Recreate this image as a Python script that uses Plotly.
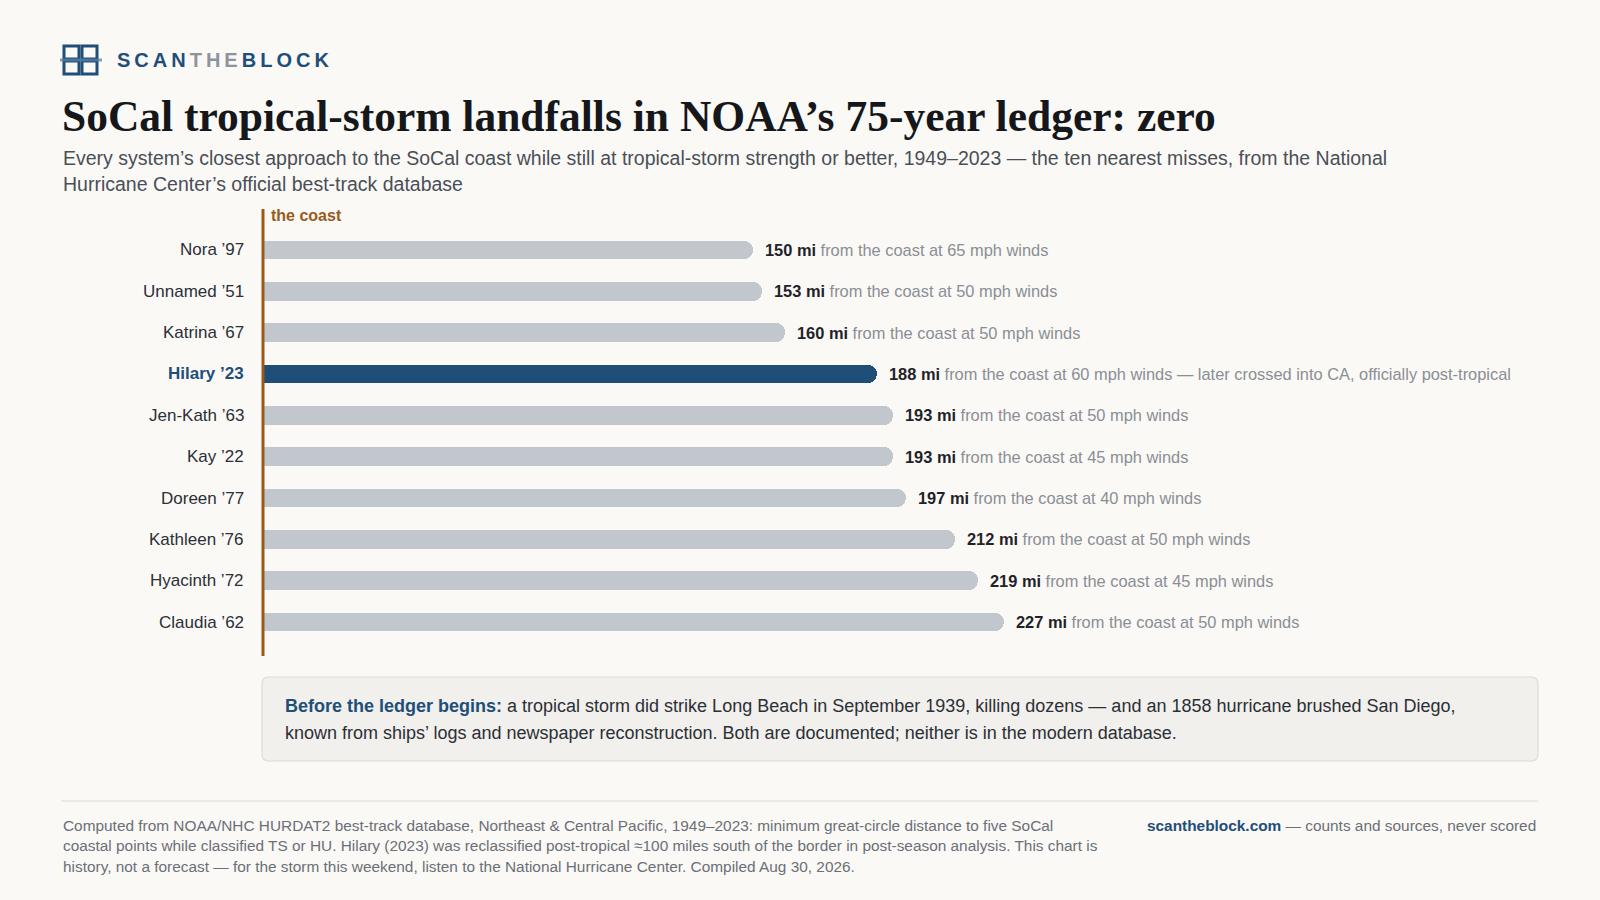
import plotly.graph_objects as go

# data
storms = ["Nora ’97", "Unnamed ’51", "Katrina ’67", "Hilary ’23", "Jen-Kath ’63",
          "Kay ’22", "Doreen ’77", "Kathleen ’76", "Hyacinth ’72", "Claudia ’62"]
distance_mi = [150, 153, 160, 188, 193, 193, 197, 212, 219, 227]
wind_mph = [65, 50, 50, 60, 50, 45, 40, 50, 45, 50]
notes = ["", "", "", " — later crossed into CA, officially post-tropical", "", "", "", "", "", ""]
highlight = "Hilary ’23"

BG = "#faf9f6"
BLUE = "#1f4e79"
GREY_BAR = "#c2c6cd"
COAST = "#9a5b1a"
DARK = "#1f2328"
MUTED = "#8a8e95"
FONT = "Liberation Sans, Arial, Helvetica, sans-serif"

W, H = 1600, 900
L, R, T, B = 262, 1570, 209, 656   # plot area in pixels


def px(x):
    return (x - L) / (R - L)


def py(y):
    return (B - y) / (B - T)


colors = [BLUE if s == highlight else GREY_BAR for s in storms]

fig = go.Figure()
fig.add_trace(go.Bar(
    y=storms, x=distance_mi, orientation="h",
    marker=dict(color=colors, line=dict(width=0), cornerradius=9),
    width=0.45, hoverinfo="skip",
))

ann = []
shapes = []

# value labels next to each bar
for s, d, w, n in zip(storms, distance_mi, wind_mph, notes):
    ann.append(dict(
        x=d, y=s, xref="x", yref="y", xanchor="left", yanchor="middle",
        xshift=10, showarrow=False,
        text=f"<b>{d} mi</b><span style='color:{MUTED}'> from the coast at {w} mph winds{n}</span>",
        font=dict(family=FONT, size=16.4, color=DARK),
    ))
    is_h = s == highlight
    ann.append(dict(
        x=0, y=s, xref="paper", yref="y", xanchor="right", yanchor="middle",
        xshift=-16, showarrow=False,
        text=f"<b>{s}</b>" if is_h else s,
        font=dict(family=FONT, size=17, color=BLUE if is_h else "#2b2f36"),
    ))

# coast line
shapes.append(dict(type="line", xref="paper", yref="paper", x0=px(263), x1=px(263),
                   y0=0, y1=1, line=dict(color=COAST, width=3), layer="above"))
ann.append(dict(x=px(269), y=py(215), xref="paper", yref="paper", xanchor="left",
                yanchor="middle", showarrow=False, text="<b>the coast</b>",
                font=dict(family=FONT, size=16, color=COAST)))

# logo: 2x2 rounded squares with a bar through the middle
for (x0, y0) in [(64, 46), (82, 46), (64, 61), (82, 61)]:
    shapes.append(dict(type="rect", xref="paper", yref="paper",
                       x0=px(x0), x1=px(x0 + 15), y0=py(y0), y1=py(y0 + 13),
                       line=dict(color=BLUE, width=3), fillcolor="rgba(0,0,0,0)"))
shapes.append(dict(type="line", xref="paper", yref="paper", x0=px(60), x1=px(102),
                   y0=py(60), y1=py(60), line=dict(color="rgba(91,128,165,0.75)", width=3)))

sp = "\u2009"
brand = (f"<span style='color:{BLUE}'>{sp.join('SCAN')}</span>{sp}"
         f"<span style='color:#8e949c'>{sp.join('THE')}</span>{sp}"
         f"<span style='color:{BLUE}'>{sp.join('BLOCK')}</span>")
ann.append(dict(x=px(115), y=py(60), xref="paper", yref="paper", xanchor="left",
                yanchor="middle", showarrow=False, text=f"<b>{brand}</b>",
                font=dict(family=FONT, size=20, color=BLUE)))

# title and subtitle
ann.append(dict(x=px(60), y=py(116), xref="paper", yref="paper", xanchor="left",
                yanchor="middle", showarrow=False,
                text="<b>SoCal tropical-storm landfalls in NOAA’s 75-year ledger: zero</b>",
                font=dict(family="Liberation Serif, DejaVu Serif, Georgia, serif", size=43.5, color="#15171a")))
sub_lines = [
    "Every system’s closest approach to the SoCal coast while still at tropical-storm strength or better, 1949–2023 — the ten nearest misses, from the National",
    "Hurricane Center’s official best-track database",
]
for i, line in enumerate(sub_lines):
    ann.append(dict(x=px(61), y=py(158 + 26 * i), xref="paper", yref="paper", xanchor="left",
                    yanchor="middle", showarrow=False, text=line,
                    font=dict(family=FONT, size=19.5, color="#4a4f57")))

# note box with rounded corners
bx0, bx1, by0, by1, rr = 262, 1538, 677, 761, 7
path = (f"M {px(bx0 + rr)},{py(by0)} L {px(bx1 - rr)},{py(by0)} "
        f"Q {px(bx1)},{py(by0)} {px(bx1)},{py(by0 + rr)} L {px(bx1)},{py(by1 - rr)} "
        f"Q {px(bx1)},{py(by1)} {px(bx1 - rr)},{py(by1)} L {px(bx0 + rr)},{py(by1)} "
        f"Q {px(bx0)},{py(by1)} {px(bx0)},{py(by1 - rr)} L {px(bx0)},{py(by0 + rr)} "
        f"Q {px(bx0)},{py(by0)} {px(bx0 + rr)},{py(by0)} Z")
shapes.append(dict(type="path", xref="paper", yref="paper", path=path,
                   fillcolor="#f1f0ec", line=dict(color="#dcdbd5", width=1.2), layer="below"))
box_lines = [
    f"<b><span style='color:{BLUE}'>Before the ledger begins:</span></b> a tropical storm did strike Long Beach in September 1939, killing dozens — and an 1858 hurricane brushed San Diego,",
    "known from ships’ logs and newspaper reconstruction. Both are documented; neither is in the modern database.",
]
for i, line in enumerate(box_lines):
    ann.append(dict(x=px(283), y=py(706 + 27 * i), xref="paper", yref="paper", xanchor="left",
                    yanchor="middle", showarrow=False, text=line,
                    font=dict(family=FONT, size=18, color="#2b2f36")))

# footer
shapes.append(dict(type="line", xref="paper", yref="paper", x0=px(61), x1=px(1538),
                   y0=py(801), y1=py(801), line=dict(color="#dddcd6", width=1.2)))
foot_lines = [
    "Computed from NOAA/NHC HURDAT2 best-track database, Northeast &amp; Central Pacific, 1949–2023: minimum great-circle distance to five SoCal",
    "coastal points while classified TS or HU. Hilary (2023) was reclassified post-tropical ≈100 miles south of the border in post-season analysis. This chart is",
    "history, not a forecast — for the storm this weekend, listen to the National Hurricane Center. Compiled Aug 30, 2026.",
]
for i, line in enumerate(foot_lines):
    ann.append(dict(x=px(61), y=py(825 + 20.5 * i), xref="paper", yref="paper", xanchor="left",
                    yanchor="middle", showarrow=False, text=line,
                    font=dict(family=FONT, size=15.4, color="#6b6f76")))
ann.append(dict(x=px(1538), y=py(825), xref="paper", yref="paper", xanchor="right",
                yanchor="middle", showarrow=False,
                text=f"<b><span style='color:{BLUE}'>scantheblock.com</span></b> — counts and sources, never scored",
                font=dict(family=FONT, size=15.4, color="#6b6f76")))

fig.update_layout(
    width=W, height=H,
    margin=dict(l=L, r=W - R, t=T, b=H - B, pad=0),
    paper_bgcolor=BG, plot_bgcolor=BG,
    showlegend=False, bargap=0,
    xaxis=dict(range=[0, (R - L) / 3.27], visible=False, fixedrange=True),
    yaxis=dict(categoryorder="array", categoryarray=storms,
               range=[9.82, -0.99], visible=False, fixedrange=True),
    annotations=ann, shapes=shapes,
)

fig.write_html("out.html", config={"displayModeBar": False},
               post_script="document.body.style.margin='0';")
